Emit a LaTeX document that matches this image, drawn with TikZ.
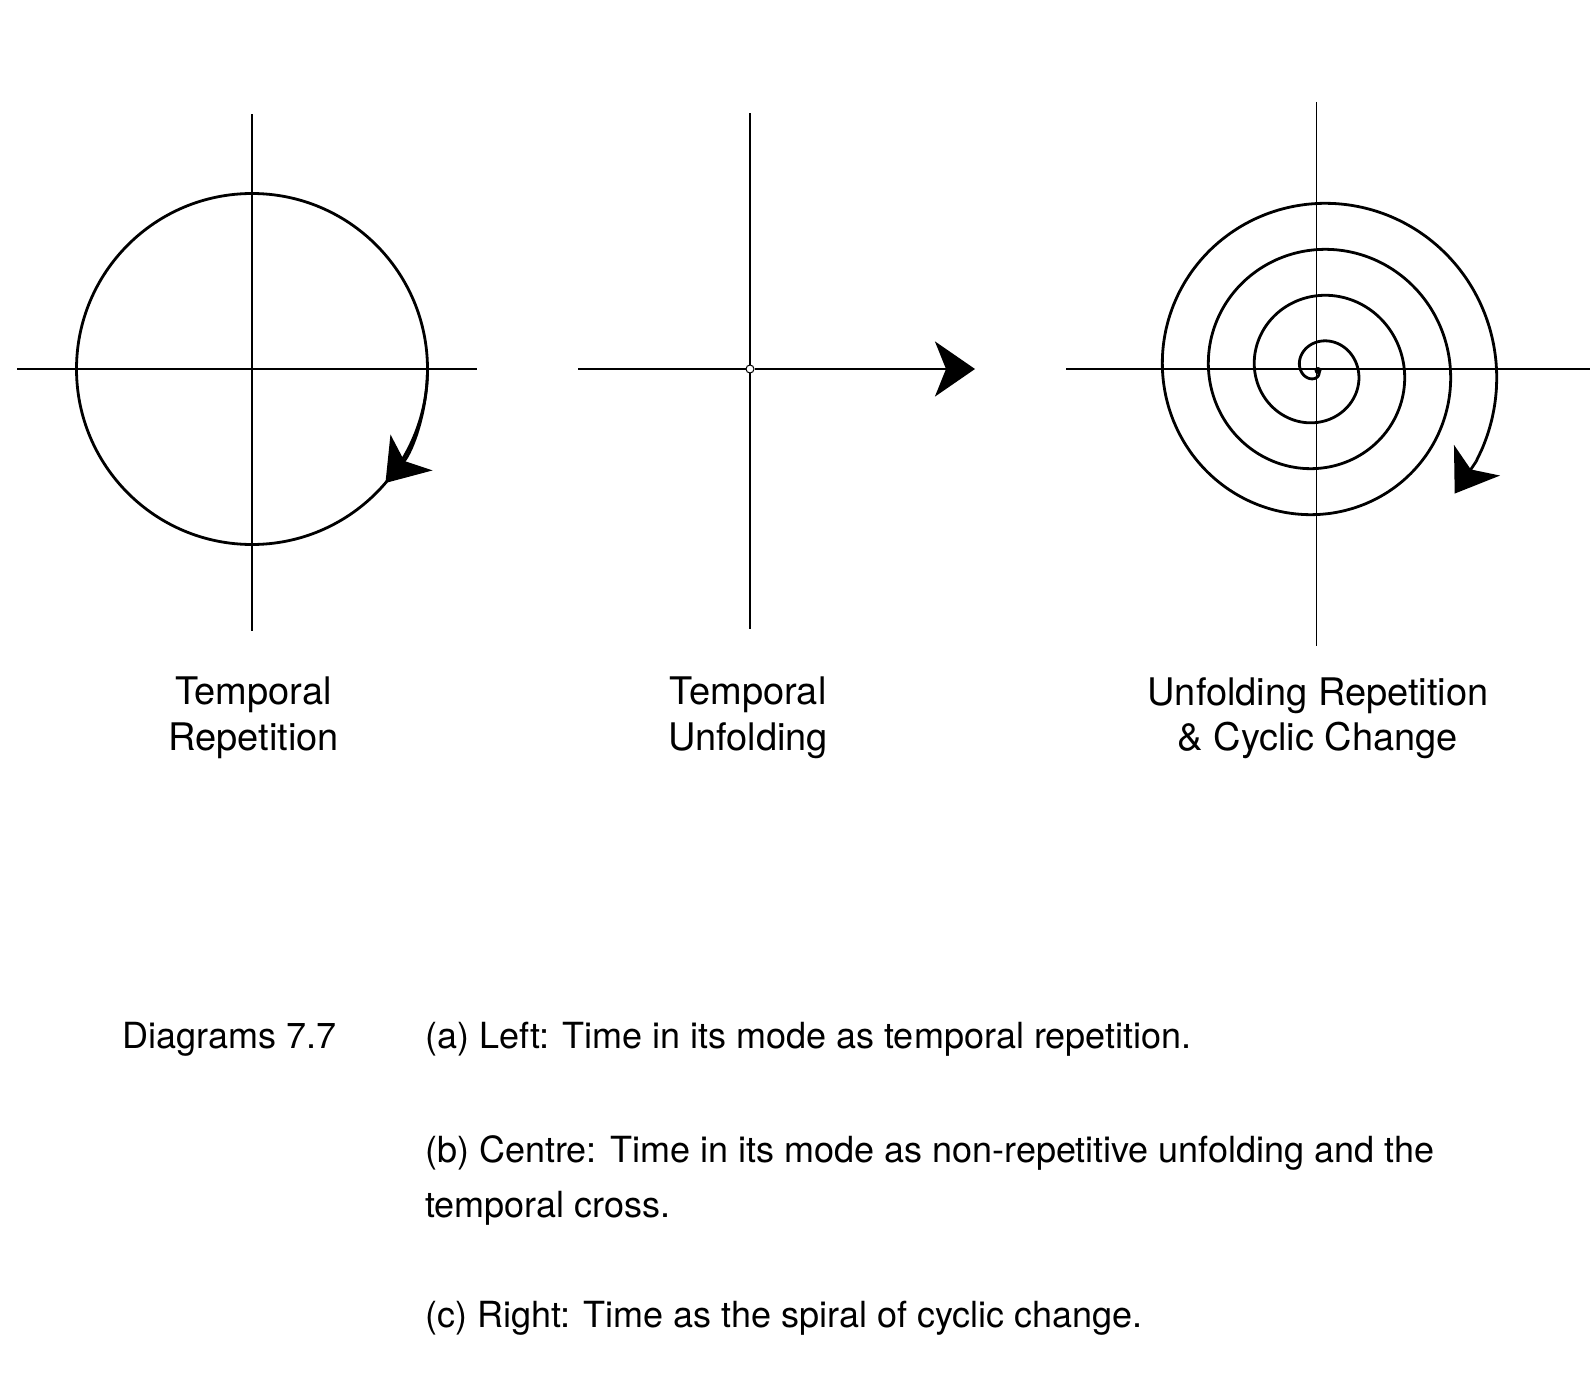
\documentclass[tikz,border=0pt]{standalone}
\usepackage{fontspec}
\setmainfont{TeX Gyre Heros}
\usetikzlibrary{arrows.meta, positioning, calc}

\begin{document}
\begin{tikzpicture}[x=1pt, y=1pt, axis/.style={line width=1.3pt}, curve/.style={line width=2.8pt}, arrow/.style={-{Stealth[length=40pt, width=55pt, inset=11pt]}}, heading/.style={align=center, anchor=north, inner sep=0pt, font=\fontsize{38}{45.6}\selectfont}, captext/.style={align=left, anchor=base west, inner sep=0pt, font=\fontsize{36}{55}\selectfont}]
\useasboundingbox (0,0) rectangle (1590,-1388);
\coordinate (repc) at (252,-369);
\coordinate (unfc) at (750,-369);
\coordinate (unftip) at (975,-369);
\coordinate (spc) at (1318,-370.5);
\draw[axis] (17,-369) -- (477,-369);
\draw[axis] (252,-114.5) -- (252,-631);
\draw[curve] (repc) circle[radius=175.5];
\draw[curve, arrow] (repc) ++(0:175.5) arc[start angle=0, end angle=-40.5, radius=175.5];
\draw[axis] (578,-369) -- (unfc);
\draw[axis] (750,-113.5) -- (750,-629);
\node[circle, draw, line width=1pt, minimum size=8pt, inner sep=0pt, fill=white] (orig) at (unfc) {};
\draw[curve, arrow] (orig) -- (unftip);
\draw[axis] (1066,-369) -- (1590,-369);
\draw[axis] (1316.5,-102) -- (1316.5,-646);
\begin{scope}[shift={(spc)}]
\draw[curve] plot[smooth, domain=45:1470, samples=300] ({0.128*(\x-45)*cos(\x)}, {-0.128*(\x-45)*sin(\x)});
\coordinate (spend) at ({0.128*(1470-45)*cos(1470)}, {-0.128*(1470-45)*sin(1470)});
\coordinate (sptip) at ({0.128*(1482-45)*cos(1482)}, {-0.128*(1482-45)*sin(1482)});
\end{scope}
\draw[curve, arrow] (spend) -- (sptip);
\fill (spc) circle[radius=3.5];
\node[heading] (replab) at (253.5,-677) {Temporal\\Repetition};
\node[heading] (unflab) at (748,-677) {Temporal\\Unfolding};
\node[heading] (cyclab) at (1318,-677) {Unfolding Repetition\\\& Cyclic Change};
\node[captext] (capno) at (122,-1048) {Diagrams 7.7};
\node[captext] (capa) at (425,-1048) {(a) Left: Time in its mode as temporal repetition.};
\node[captext, anchor=north west] (capb) at (425,-1135) {(b) Centre: Time in its mode as non-repetitive unfolding and the\\temporal cross.};
\node[captext] (capc) at (425,-1327) {(c) Right: Time as the spiral of cyclic change.};
\end{tikzpicture}
\end{document}
